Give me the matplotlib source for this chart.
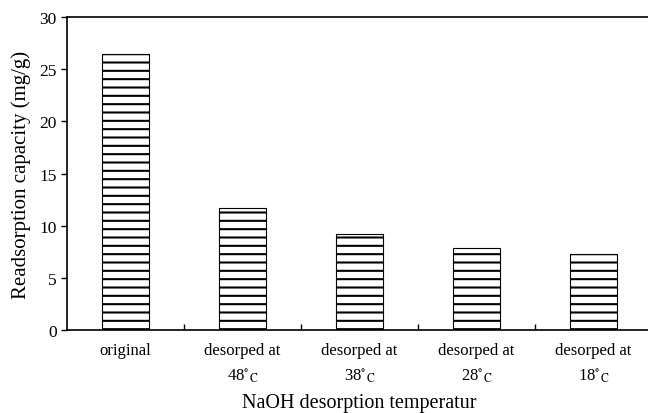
import matplotlib
matplotlib.use("Agg")
import matplotlib.pyplot as plt

plt.rcParams["font.family"] = ["Liberation Serif", "DejaVu Serif"]
plt.rcParams["mathtext.fontset"] = "stix"
plt.rcParams["hatch.linewidth"] = 1.5

categories = ["original",
              "desorped at\n48$^{\\circ}$$_{\\mathrm{C}}$",
              "desorped at\n38$^{\\circ}$$_{\\mathrm{C}}$",
              "desorped at\n28$^{\\circ}$$_{\\mathrm{C}}$",
              "desorped at\n18$^{\\circ}$$_{\\mathrm{C}}$"]
capacity = [26.5, 11.7, 9.2, 7.9, 7.3]

fig = plt.figure(figsize=(6.48, 4.14), dpi=100)
ax = fig.add_axes([0.1034, 0.2005, 0.903, 0.756])

x = range(len(categories))
ax.bar(x, capacity, width=0.4, color="white", edgecolor="black",
       linewidth=0.8, hatch="--")

ax.set_xlim(-0.5, len(categories) - 0.5)
ax.set_ylim(0, 30)
ax.set_yticks([0, 5, 10, 15, 20, 25, 30])
ax.set_xticks(list(x))
ax.set_xticklabels(categories, fontsize=12, linespacing=1.6)
ax.set_xticks([i + 0.5 for i in range(len(categories) - 1)], minor=True)
ax.tick_params(axis="x", which="major", length=0, pad=9)
ax.tick_params(axis="x", which="minor", direction="in", length=4, width=1)
ax.tick_params(axis="y", direction="out", length=4, width=1, labelsize=12.5)

for side in ["left", "bottom", "top"]:
    ax.spines[side].set_linewidth(1.2)
ax.spines["right"].set_visible(False)

ax.set_ylabel("Readsorption capacity (mg/g)", fontsize=15, labelpad=6)
ax.set_xlabel("NaOH desorption temperatur", fontsize=14.5, labelpad=6)

fig.savefig("out.png", dpi=100)
